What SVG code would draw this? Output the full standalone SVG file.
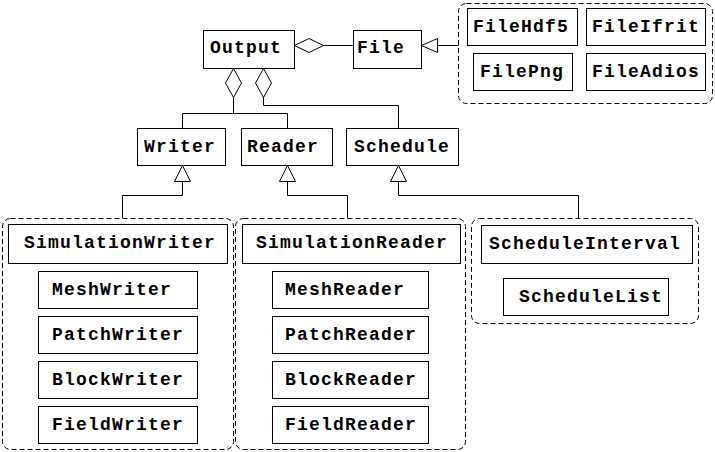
<svg xmlns="http://www.w3.org/2000/svg" width="715" height="452" viewBox="0 0 715 452">
<style>
.b{fill:#fff;stroke:#000;stroke-width:1}
.g{fill:none;stroke:#000;stroke-width:1;stroke-dasharray:5,3}
.t{font-family:"Liberation Mono","Courier New",monospace;font-weight:bold;font-size:18px;letter-spacing:1.2px;fill:#000}
.c{fill:none;stroke:#000;stroke-width:1}
.h{fill:#fff;stroke:#000;stroke-width:1}
</style>
<rect width="715" height="452" fill="#fff"/>
<g id="connectors">
<path class="c" d="M323.5,45.5H353.5"/>
<path class="h" d="M294.5,45.5L309,38.5L323.5,45.5L309,52.5Z"/>
<path class="c" d="M437.5,45.5H458.5"/>
<path class="h" d="M421.5,45.5L437.5,38.5V52.5Z"/>
<path class="c" d="M233.5,97V113.5M182.5,128V113.5H287.5V128"/>
<path class="h" d="M233.5,68.5L241.5,83L233.5,97.5L225.5,83Z"/>
<path class="c" d="M263.5,97V105.5H398.5V128"/>
<path class="h" d="M263.5,68.5L271.5,83L263.5,97.5L255.5,83Z"/>
<path class="c" d="M182.5,181V195.5H122.5V218"/>
<path class="h" d="M182.5,165.5L190.5,181.5H174.5Z"/>
<path class="c" d="M287.5,181V195.5H347.5V218"/>
<path class="h" d="M287.5,165.5L295.5,181.5H279.5Z"/>
<path class="c" d="M398.5,181V195.5H578.5V218"/>
<path class="h" d="M398.5,165.5L406.5,181.5H390.5Z"/>
</g>
<g id="Output"><rect class="b" x="203.5" y="30.5" width="91" height="38"/><text class="t" x="210" y="53">Output</text></g>
<g id="File"><rect class="b" x="353.5" y="30.5" width="68" height="38"/><text class="t" x="357" y="53">File</text></g>
<g id="FileGroup">
<rect class="g" x="458.5" y="3.5" width="254" height="100" rx="8"/>
<g id="FileHdf5"><rect class="b" x="467.5" y="8.5" width="110" height="37"/><text class="t" x="473" y="32">FileHdf5</text></g>
<g id="FileIfrit"><rect class="b" x="586.5" y="8.5" width="119" height="37"/><text class="t" x="592" y="32">FileIfrit</text></g>
<g id="FilePng"><rect class="b" x="473.5" y="53.5" width="99" height="37"/><text class="t" x="480" y="77">FilePng</text></g>
<g id="FileAdios"><rect class="b" x="586.5" y="53.5" width="119" height="37"/><text class="t" x="592" y="77">FileAdios</text></g>
</g>
<g id="Writer"><rect class="b" x="137.5" y="128.5" width="88" height="37"/><text class="t" x="144" y="152">Writer</text></g>
<g id="Reader"><rect class="b" x="241.5" y="128.5" width="91" height="37"/><text class="t" x="247" y="152">Reader</text></g>
<g id="Schedule"><rect class="b" x="346.5" y="128.5" width="112" height="37"/><text class="t" x="354" y="152">Schedule</text></g>
<g id="WriterGroup">
<rect class="g" x="2.5" y="218.5" width="231" height="231" rx="8"/>
<g id="SimulationWriter"><rect class="b" x="8.5" y="224.5" width="219" height="39"/><text class="t" x="24" y="248">SimulationWriter</text></g>
<g id="MeshWriter"><rect class="b" x="38.5" y="271.5" width="159" height="37"/><text class="t" x="52" y="295">MeshWriter</text></g>
<g id="PatchWriter"><rect class="b" x="38.5" y="316.5" width="159" height="37"/><text class="t" x="52" y="340">PatchWriter</text></g>
<g id="BlockWriter"><rect class="b" x="38.5" y="361.5" width="159" height="37"/><text class="t" x="52" y="385">BlockWriter</text></g>
<g id="FieldWriter"><rect class="b" x="38.5" y="406.5" width="159" height="37"/><text class="t" x="52" y="430">FieldWriter</text></g>
</g>
<g id="ReaderGroup">
<rect class="g" x="235.5" y="218.5" width="230" height="231" rx="8"/>
<g id="SimulationReader"><rect class="b" x="242.5" y="224.5" width="218" height="39"/><text class="t" x="256" y="248">SimulationReader</text></g>
<g id="MeshReader"><rect class="b" x="272.5" y="271.5" width="156" height="37"/><text class="t" x="285" y="295">MeshReader</text></g>
<g id="PatchReader"><rect class="b" x="272.5" y="316.5" width="156" height="37"/><text class="t" x="285" y="340">PatchReader</text></g>
<g id="BlockReader"><rect class="b" x="272.5" y="361.5" width="156" height="37"/><text class="t" x="285" y="385">BlockReader</text></g>
<g id="FieldReader"><rect class="b" x="272.5" y="406.5" width="156" height="37"/><text class="t" x="285" y="430">FieldReader</text></g>
</g>
<g id="ScheduleGroup">
<rect class="g" x="471.5" y="218.5" width="227" height="105" rx="8"/>
<g id="ScheduleInterval"><rect class="b" x="481.5" y="225.5" width="211" height="38"/><text class="t" x="489" y="249">ScheduleInterval</text></g>
<g id="ScheduleList"><rect class="b" x="503.5" y="278.5" width="165" height="37"/><text class="t" x="519" y="302">ScheduleList</text></g>
</g>
</svg>
